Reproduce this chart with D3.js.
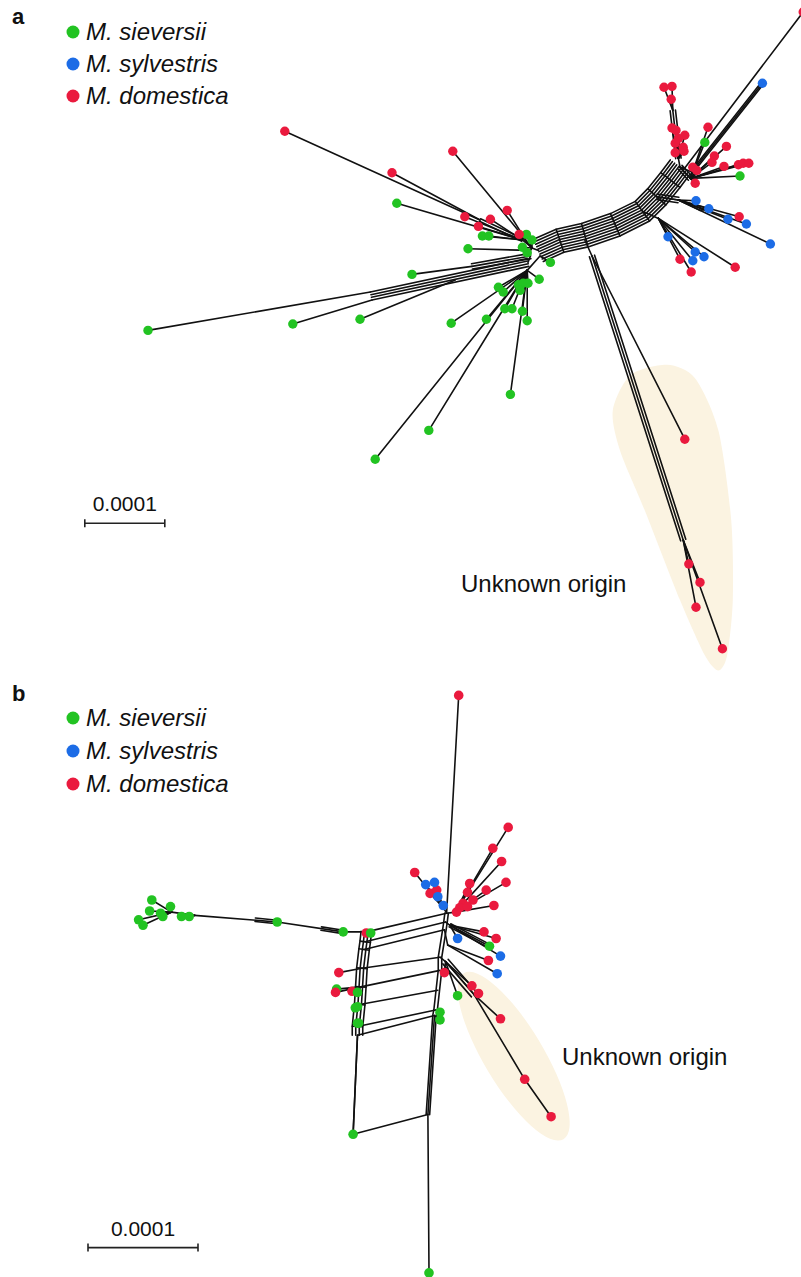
<!DOCTYPE html>
<html>
<head>
<meta charset="utf-8">
<script src="https://cdn.jsdelivr.net/npm/d3@7"></script>
<style>
  body { margin: 0; background: #fff; }
  svg { display: block; }
  text { font-family: "Liberation Sans", Arial, Helvetica, sans-serif; fill: #111; }
</style>
</head>
<body>
<svg id="chart" width="801" height="1277"></svg>
<script>
// Species legend
const speciesKeys   = ["S", "Y", "D"];
const speciesNames  = ["M. sieversii", "M. sylvestris", "M. domestica"];
const speciesColors = ["#22c322", "#1c6ce6", "#ea1a3e"];

// Scale bar: 0.0001 substitutions per site = 100 network units (1 unit = 1e-6)
const scaleBarUnits = 100;
const scaleBarLabel = "0.0001";
const highlightLabel = "Unknown origin";

// ---------- Panel a: network coordinates (units of 1e-6 subst./site) ----------
// leaf: [x, y, species, attachX, attachY]
const leavesA = [
  [185,413,"S",463,365], [366,405,"S",465,375], [450,399,"S",569,350],
  [515,343,"S",590,333], [496,254,"S",653,300], [564,404,"S",659,338],
  [608,399,"S",659,338], [631,386,"S",659,338], [640,386,"S",659,338],
  [653,389,"S",659,338], [659,401,"S",659,338], [638,493,"S",659,338],
  [536,538,"S",659,338], [469,574,"S",659,338], [585,311,"S",663,313],
  [603,295,"S",653,300], [611,295,"S",653,300], [658,293,"S",665,310],
  [665,300,"S",665,310], [653,309,"S",665,310], [659,316,"S",665,310],
  [688,328,"S",675,320], [674,349,"S",659,338], [623,359,"S",659,338],
  [629,365,"S",659,338], [648,356,"S",659,338], [654,354,"S",659,338],
  [660,354,"S",659,338], [650,363,"S",659,338],
  [356,164,"D",600,275], [566,189,"D",656,298], [490,216,"D",600,275],
  [634,263,"D",656,298], [581,271,"D",653,300], [613,274,"D",653,300],
  [598,283,"D",653,300], [649,293,"D",665,310],
  // right cluster
  [830,109,"D",841,138], [840,108,"D",841,138], [839,124,"D",841,138],
  [840,160,"D",848,198], [845,163,"D",848,198], [856,169,"D",848,198],
  [848,173,"D",848,198], [844,179,"D",848,198], [854,184,"D",848,198],
  [855,189,"D",848,198], [844,191,"D",848,198],
  [885,159,"D",863,223], [908,183,"D",863,223], [893,195,"D",863,223],
  [890,203,"D",863,223], [905,208,"D",863,223], [923,206,"D",863,223],
  [929,204,"D",863,223], [936,204,"D",863,223], [866,209,"D",863,223],
  [871,213,"D",863,223], [869,229,"D",863,223],
  [881,178,"S",863,223], [925,220,"S",863,223],
  [1004,15,"D",856,210], [953,104,"Y",865,215],
  [924,271,"D",848,250], [870,251,"Y",848,250], [886,261,"Y",848,250],
  [910,274,"Y",848,250], [933,280,"Y",848,250], [963,305,"Y",848,250],
  [850,324,"D",823,273], [864,340,"D",823,273], [919,334,"D",823,273],
  [835,296,"Y",823,273], [869,315,"Y",823,273], [880,321,"Y",823,273],
  [866,326,"Y",823,273],
  // unknown origin
  [856,549,"D",740,320], [861,705,"D",854,675], [875,728,"D",854,675],
  [870,759,"D",854,675], [903,811,"D",854,675]
];
// internal edges: [x1, y1, x2, y2]
const edgesA = [
  [665,310,653,300], [665,310,656,298], [665,310,663,313], [663,313,663,320],
  [659,338,675,320], [665,310,673,313], [660,328,663,320],
  [850,209,848,198], [850,209,856,210], [850,209,865,215], [850,209,863,223],
  [821,246,848,250], [803,264,823,273], [731,300,740,320],
  [848,250,875,263], [875,263,886,261]
];
// split bundles: polyline + number of parallel splits
const bundlesA = [
  { path: [[673,313],[700,301],[731,294],[769,281],[803,264],[821,246],[838,225],[850,209]], n: 10 },
  { path: [[660,328],[464,370]], n: 4 },
  { path: [[653,300],[600,275]], n: 2 },
  { path: [[663,320],[590,333]], n: 3 },
  { path: [[848,198],[841,138]], n: 3 },
  { path: [[850,209],[863,223]], n: 3 },
  { path: [[821,246],[848,250]], n: 3 },
  { path: [[865,215],[953,104]], n: 2 },
  { path: [[740,320],[854,675]], n: 3 }
];
const highlightA = [[834,456],[869,473],[898,538],[914,650],[916,750],[909,819],[898,838],
                    [881,819],[850,750],[806,638],[775,563],[766,513],[788,469]];

// ---------- Panel b ----------
const leavesB = [
  [138,200,"S",156,211], [136,210,"S",156,211], [155,206,"S",156,211],
  [146,212,"S",156,211], [148,215,"S",156,211], [126,218,"S",156,211],
  [130,223,"S",156,211], [165,215,"S",177,214], [172,215,"S",177,214],
  [252,220,"S",252,220], [312,229,"S",312,229],
  [333,230,"D",333,229], [337,230,"S",333,229],
  [308,266,"D",329,262], [306,281,"S",328,279], [305,284,"D",328,279],
  [320,283,"D",328,279], [325,284,"S",328,279], [323,298,"S",327,295],
  [325,297,"S",327,295], [325,312,"S",325,315], [326,312,"S",325,315],
  [400,302,"S",396,300], [400,309,"S",395,305],
  [321,413,"S",325,323], [390,539,"S",389,395],
  [417,14,"D",406,212],
  [462,134,"D",414,211], [448,153,"D",414,211], [456,165,"D",414,211],
  [460,184,"D",414,211], [442,191,"D",414,211], [449,205,"D",414,211],
  [427,185,"D",414,211], [425,193,"D",414,211], [430,200,"D",414,211],
  [421,203,"D",414,211], [418,207,"D",414,211], [425,206,"D",414,211],
  [415,211,"D",414,211],
  [377,175,"D",403,207], [391,194,"D",403,207], [397,191,"D",403,207],
  [387,186,"Y",403,207], [395,184,"Y",403,207], [398,197,"Y",403,207],
  [403,205,"Y",403,207],
  [416,235,"Y",409,223], [440,229,"D",409,223], [451,235,"D",409,223],
  [445,242,"S",409,223], [455,251,"Y",409,223],
  [444,255,"D",407,241], [452,267,"Y",407,241],
  [404,266,"D",405,256], [416,287,"S",405,256], [429,278,"D",405,256],
  [435,285,"D",431,286], [455,308,"D",431,286], [477,363,"D",431,286],
  [501,397,"D",477,363]
];
const colLeftB  = [[333,229],[332,238],[331,245],[329,262],[328,279],[327,295],[325,315],[325,323]];
const colRightB = [[406,212],[405,220],[404,227],[400,252],[400,264],[398,282],[396,300],[395,305]];
const edgesB = [
  [325,323,321,413], [395,305,389,395], [321,413,389,395],
  [333,229,312,229], [312,229,252,220], [252,220,177,214], [177,214,156,211],
  [406,212,403,207], [406,212,414,211], [405,220,409,223], [404,227,407,241],
  [400,252,405,256], [405,256,431,286]
];
const bundlesB = [
  { path: colLeftB, n: 4 },
  { path: colRightB.concat([[389,395]]), n: 2 },
  { path: [[312,229],[292,226]], n: 2 },
  { path: [[252,220],[232,218]], n: 2 },
  { path: [[409,223],[445,242]], n: 2 },
  { path: [[405,256],[431,286]], n: 3 }
];
// highlight ellipse: centre, semi-axes, rotation (degrees)
const highlightB = { cx: 467, cy: 342, rx: 88, ry: 27, angle: 59 };

// ---------- drawing ----------
const svg = d3.select("#chart");
const colorOf = d3.scaleOrdinal().domain(speciesKeys).range(speciesColors);
const highlightFill = "#fbf3e1";

function offsetPolyline(pts, d) {
  return pts.map((p, i) => {
    let nx = 0, ny = 0;
    const segs = [];
    if (i > 0) segs.push([pts[i-1], p]);
    if (i < pts.length - 1) segs.push([p, pts[i+1]]);
    segs.forEach(([a, b]) => {
      const dx = b[0] - a[0], dy = b[1] - a[1], L = Math.hypot(dx, dy) || 1;
      nx += -dy / L; ny += dx / L;
    });
    const L = Math.hypot(nx, ny) || 1;
    return [p[0] + nx / L * d, p[1] + ny / L * d];
  });
}

function drawPanel(cfg) {
  const { sx, sy, leaves, edges, bundles, gap, r } = cfg;
  const g = svg.append("g");
  const line = d3.line();

  if (cfg.highlightPath) {
    g.append("path")
      .attr("d", d3.line().curve(d3.curveCardinalClosed.tension(0.2))
        (cfg.highlightPath.map(p => [sx(p[0]), sy(p[1])])))
      .attr("fill", highlightFill);
  }
  if (cfg.highlightEllipse) {
    const h = cfg.highlightEllipse;
    g.append("ellipse")
      .attr("cx", sx(h.cx)).attr("cy", sy(h.cy))
      .attr("rx", sx(h.rx) - sx(0)).attr("ry", sx(h.ry) - sx(0))
      .attr("transform", `rotate(${h.angle},${sx(h.cx)},${sy(h.cy)})`)
      .attr("fill", highlightFill);
  }

  const lines = g.append("g").attr("stroke", "#111").attr("stroke-width", 1.6)
    .attr("fill", "none").attr("stroke-linecap", "round");

  bundles.forEach(b => {
    const px = b.path.map(p => [sx(p[0]), sy(p[1])]);
    const half = (b.n - 1) / 2;
    for (let k = 0; k < b.n; k++) {
      lines.append("path").attr("d", line(offsetPolyline(px, (k - half) * gap)));
    }
    if (b.n > 2) {
      const lo = offsetPolyline(px, -half * gap), hi = offsetPolyline(px, half * gap);
      for (let i = 1; i < px.length - 1; i++) {
        lines.append("path").attr("d", line([lo[i], hi[i]]));
      }
    }
  });
  if (cfg.rungs) {
    cfg.rungs[0].forEach((p, i) => {
      const q = cfg.rungs[1][i];
      lines.append("line")
        .attr("x1", sx(p[0])).attr("y1", sy(p[1]))
        .attr("x2", sx(q[0])).attr("y2", sy(q[1]));
    });
  }
  edges.forEach(e => {
    lines.append("line")
      .attr("x1", sx(e[0])).attr("y1", sy(e[1]))
      .attr("x2", sx(e[2])).attr("y2", sy(e[3]));
  });
  leaves.forEach(l => {
    lines.append("line")
      .attr("x1", sx(l[3])).attr("y1", sy(l[4]))
      .attr("x2", sx(l[0])).attr("y2", sy(l[1]));
  });

  g.append("g").selectAll("circle").data(leaves).join("circle")
    .attr("cx", d => sx(d[0])).attr("cy", d => sy(d[1]))
    .attr("r", r).attr("fill", d => colorOf(d[2]));
  return g;
}

function drawLegend(x, y0, step, letter, letterY) {
  svg.append("text").attr("x", 12).attr("y", letterY).text(letter)
    .style("font-weight", "bold").style("font-size", "22px");
  speciesNames.forEach((name, i) => {
    const y = y0 + i * step;
    svg.append("circle").attr("cx", x).attr("cy", y).attr("r", 6.5).attr("fill", speciesColors[i]);
    svg.append("text").attr("x", x + 13).attr("y", y + 8).text(name)
      .style("font-style", "italic").style("font-size", "24px");
  });
}

function drawScaleBar(sx, sy, ux, uy, fontSize) {
  const x1 = sx(ux), x2 = sx(ux + scaleBarUnits), y = sy(uy);
  const g = svg.append("g").attr("stroke", "#222").attr("stroke-width", 1.6);
  g.append("line").attr("x1", x1).attr("x2", x2).attr("y1", y).attr("y2", y);
  g.append("line").attr("x1", x1).attr("x2", x1).attr("y1", y - 4).attr("y2", y + 4);
  g.append("line").attr("x1", x2).attr("x2", x2).attr("y1", y - 4).attr("y2", y + 4);
  svg.append("text").attr("x", (x1 + x2) / 2).attr("y", y - 12)
    .attr("text-anchor", "middle").style("font-size", fontSize + "px").text(scaleBarLabel);
}

// panel a: 0.8 px per unit
const xA = d3.scaleLinear().domain([0, 1000]).range([0, 800]);
const yA = d3.scaleLinear().domain([0, 1000]).range([0, 800]);
// panel b: 1.1 px per unit
const xB = d3.scaleLinear().domain([0, 1000]).range([0, 1100]);
const yB = d3.scaleLinear().domain([0, 1000]).range([680, 1780]);

drawPanel({ sx: xA, sy: yA, leaves: leavesA, edges: edgesA, bundles: bundlesA,
  gap: 2.7, r: 4.7, highlightPath: highlightA });
drawPanel({ sx: xB, sy: yB, leaves: leavesB, edges: edgesB, bundles: bundlesB,
  gap: 3.5, r: 4.8, highlightEllipse: highlightB, rungs: [colLeftB, colRightB] });

drawLegend(73, 32, 32, "a", 24);
drawLegend(73, 718, 33, "b", 701);

drawScaleBar(xA, yA, 106, 654, 21);
drawScaleBar(xB, yB, 80, 516, 21);

svg.append("text").attr("x", 461).attr("y", 592).style("font-size", "24px").text(highlightLabel);
svg.append("text").attr("x", 562).attr("y", 1065).style("font-size", "24px").text(highlightLabel);
</script>
</body>
</html>
